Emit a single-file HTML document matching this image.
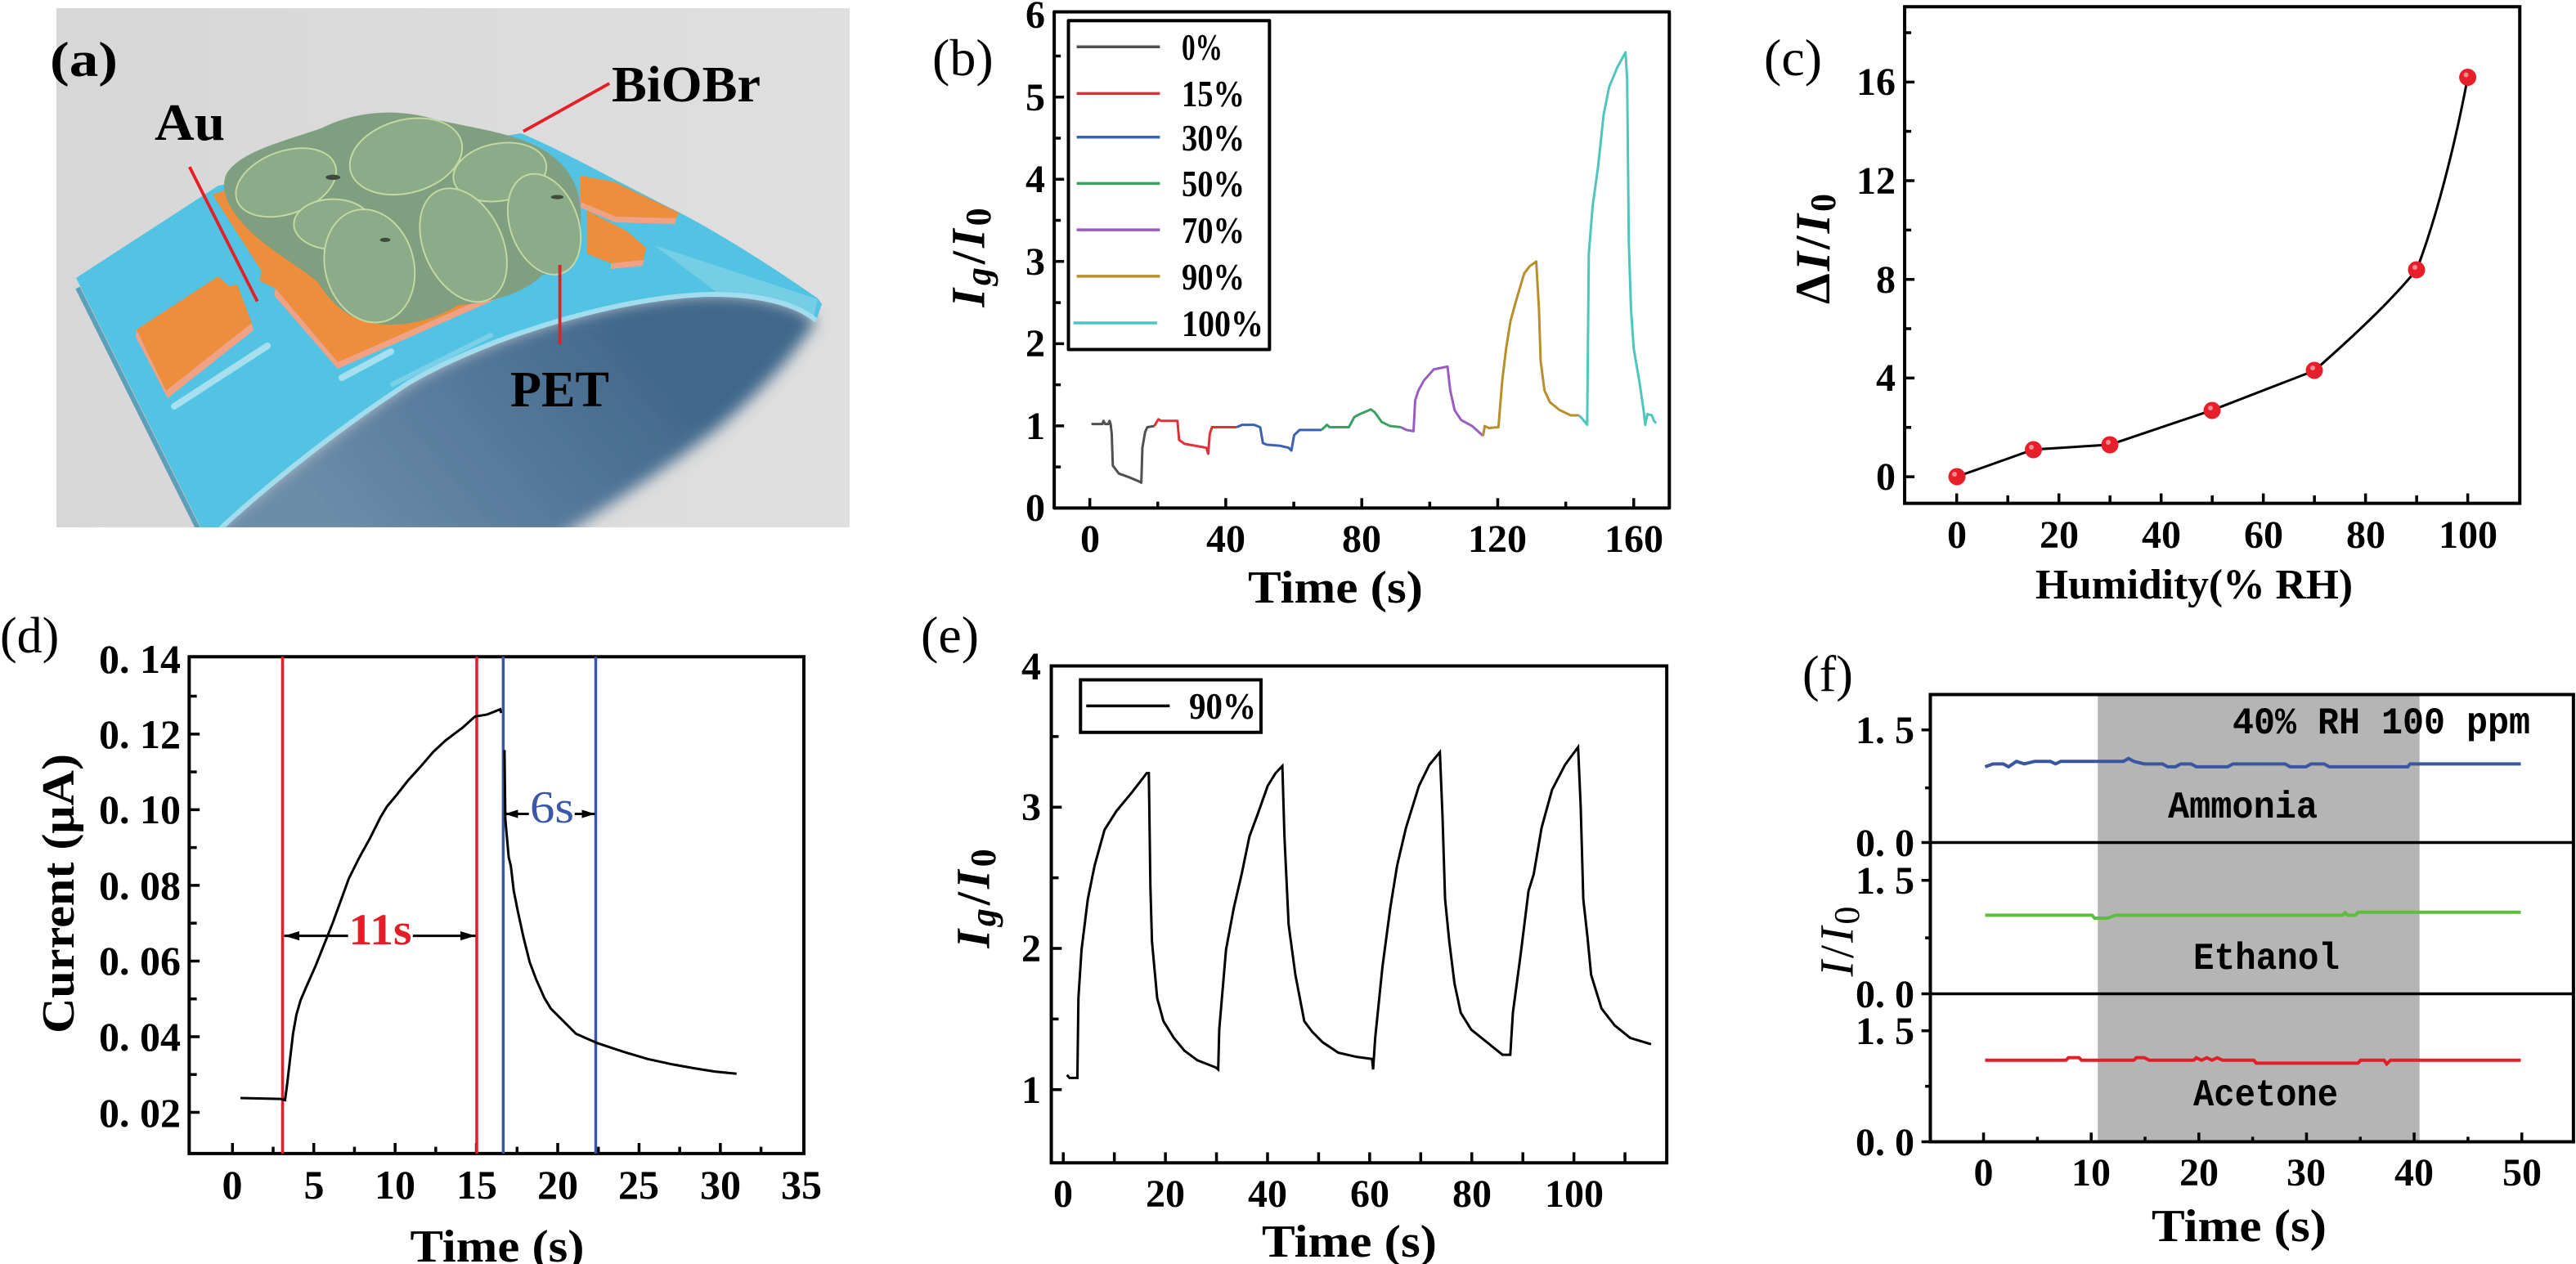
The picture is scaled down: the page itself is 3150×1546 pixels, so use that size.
<!DOCTYPE html>
<html><head><meta charset="utf-8">
<style>
html,body{margin:0;padding:0;background:#fff;}
svg{display:block;}
text{font-family:"Liberation Serif","Noto Serif CJK SC",serif;}
</style></head>
<body>
<svg width="3150" height="1546" viewBox="0 0 3150 1546" xmlns="http://www.w3.org/2000/svg">
<defs>
<linearGradient id="bg" x1="0" y1="0" x2="1" y2="0"><stop offset="0" stop-color="#d7d7d7"/><stop offset="1" stop-color="#dfdfdf"/></linearGradient>
<linearGradient id="under" gradientUnits="userSpaceOnUse" x1="760" y1="370" x2="420" y2="650"><stop offset="0" stop-color="#40678a"/><stop offset="0.5" stop-color="#56799a"/><stop offset="1" stop-color="#6c8ca8"/></linearGradient>
<clipPath id="clipA"><rect x="69" y="10" width="970" height="635"/></clipPath>
<filter id="blurA" x="-20%" y="-20%" width="140%" height="140%"><feGaussianBlur stdDeviation="9"/></filter>
</defs>

<!-- ================= Panel (a) ================= -->
<rect x="69" y="10" width="970" height="635" fill="url(#bg)"/>
<g clip-path="url(#clipA)">
<path d="M240,660 L268,643 C330,590 420,520 500,468 C600,410 760,362 870,360 C930,360 975,372 998,392 C965,445 905,505 850,545 C790,590 725,630 680,660 Z" fill="url(#under)" filter="url(#blurA)"/>
<path d="M93,340 L247,648 L268,648 C330,590 420,520 500,468 C600,410 760,362 870,360 C930,360 975,372 998,392 L1005,372 L1000,365 C950,330 880,285 827,258 C760,225 690,185 637,163 L267,227 Z" fill="#52c3e2"/>
<path d="M800,300 L1000,366 L995,388 C960,372 920,362 880,360 Z" fill="#86d3e8" opacity="0.7"/>
<path d="M268,648 C330,590 420,520 500,468 C600,410 760,362 870,360 C930,360 975,372 998,392" fill="none" stroke="#a2ddef" stroke-width="6"/>
<path d="M95,352 L243,648" fill="none" stroke="#5d9fbb" stroke-width="6"/>
<path d="M213,497 L327,423" stroke="#a6e0f0" stroke-width="8" stroke-linecap="round"/>
<path d="M418,462 L478,430" stroke="#a6e0f0" stroke-width="8" stroke-linecap="round"/>
<path d="M480,470 L600,410" stroke="#8cd6ec" stroke-width="6" stroke-linecap="round" opacity="0.7"/>
<!-- electrodes -->
<polygon points="167,403 267,338 280,350 290,348 308,395 203,478" fill="#ee8d3b"/>
<polygon points="203,478 308,395 310,404 205,487" fill="#f3a184"/>
<polygon points="167,403 203,478 205,487 166,412" fill="#f3a184"/>
<polygon points="260,238 450,170 640,300 627,349 413,443 337,353 317,343 320,332" fill="#ee8d3b"/>
<polygon points="413,443 627,349 627,357 413,451" fill="#f3a184"/>
<polygon points="337,353 413,443 413,451 335,361" fill="#f3a184"/>
<polygon points="710,215 750,222 830,260 827,267 753,265 710,247" fill="#ee8d3b"/>
<polygon points="710,247 753,265 827,267 825,274 753,272 710,254" fill="#f3a184"/>
<polygon points="717,257 767,283 790,303 787,318 747,322 717,310" fill="#ee8d3b"/>
<polygon points="747,322 787,318 786,325 747,329" fill="#f3a184"/>
</g>
<g transform="translate(50,0) scale(0.6378)">
<!-- BiOBr cluster -->
<path d="M355,335 C380,290 470,270 540,245 C600,215 680,205 760,230 C830,245 900,255 950,280 C1010,310 1040,360 1035,430 C1040,490 1010,520 960,528 C930,560 870,580 800,585 C760,610 700,630 640,620 C580,612 550,570 530,540 C480,500 420,470 380,420 C355,390 345,360 355,335 Z" fill="#7f9f80"/>
<g fill="#8bab89" stroke="#c4daa4" stroke-width="3">
<ellipse cx="470" cy="350" rx="100" ry="60" transform="rotate(-20 470 350)"/>
<ellipse cx="700" cy="300" rx="110" ry="70" transform="rotate(-15 700 300)"/>
<ellipse cx="880" cy="330" rx="90" ry="55" transform="rotate(-10 880 330)"/>
<ellipse cx="560" cy="430" rx="75" ry="48"/>
<ellipse cx="965" cy="430" rx="65" ry="100" transform="rotate(-20 965 430)"/>
<ellipse cx="810" cy="470" rx="75" ry="115" transform="rotate(-25 810 470)"/>
<ellipse cx="630" cy="510" rx="85" ry="110" transform="rotate(-15 630 510)"/>
</g>
<g fill="#3d4a3c"><ellipse cx="560" cy="340" rx="14" ry="5"/><ellipse cx="990" cy="378" rx="12" ry="4"/><ellipse cx="660" cy="460" rx="10" ry="4"/></g>
<g stroke="#e61e28" stroke-width="6" fill="none">
<line x1="1090" y1="160" x2="925" y2="252"/>
<line x1="285" y1="320" x2="415" y2="578"/>
<line x1="995" y1="508" x2="995" y2="660"/>
</g>
</g>
<text x="61" y="93" font-size="60" font-weight="bold" textLength="83" lengthAdjust="spacingAndGlyphs">(a)</text>
<text x="748" y="124" font-size="62" font-weight="bold" textLength="182" lengthAdjust="spacingAndGlyphs">BiOBr</text>
<text x="189" y="171" font-size="64" font-weight="bold" textLength="86" lengthAdjust="spacingAndGlyphs">Au</text>
<text x="624" y="497" font-size="62" font-weight="bold" textLength="121" lengthAdjust="spacingAndGlyphs">PET</text>

<!-- ================= Panel (b) ================= -->
<g transform="translate(1050,0) scale(0.6698,0.4847)" fill="none" stroke-linejoin="round">
<rect x="357" y="30" width="1123" height="1252" stroke="#000" stroke-width="4" vector-effect="non-scaling-stroke"/>
<path d="M357,1074.6h18M357,867.2h18M357,659.8h18M357,452.4h18M357,245h18M357,1178.3h12M357,970.9h12M357,763.5h12M357,556.1h12M357,348.7h12M357,141.3h12M422,1282v-25M670.2,1282v-25M918.5,1282v-25M1166.7,1282v-25M1415,1282v-25M546.1,1282v-16M794.4,1282v-16M1042.6,1282v-16M1290.9,1282v-16" stroke="#000" stroke-width="3.5" vector-effect="non-scaling-stroke"/>
<rect x="383" y="52" width="367" height="830" stroke="#000" stroke-width="4" vector-effect="non-scaling-stroke"/>
<g stroke-width="3.5">
<path d="M398,118H550" stroke="#505050" vector-effect="non-scaling-stroke"/>
<path d="M398,236H550" stroke="#e2303a" vector-effect="non-scaling-stroke"/>
<path d="M398,346H550" stroke="#3a62b0" vector-effect="non-scaling-stroke"/>
<path d="M398,463H550" stroke="#3aa060" vector-effect="non-scaling-stroke"/>
<path d="M398,580H550" stroke="#9a5cc0" vector-effect="non-scaling-stroke"/>
<path d="M398,697H550" stroke="#b88f2a" vector-effect="non-scaling-stroke"/>
<path d="M392,815H545" stroke="#4ec6be" vector-effect="non-scaling-stroke"/>
</g>
<g stroke-width="3">
<path d="M425,1070 L445,1070 L447,1062 L450,1070 L456,1070 L458,1062 L460,1070 L462,1095 L464,1175 L475,1195 L495,1205 L512,1215 L516,1218 L518,1130 L523,1090 L527,1078 L540,1075" stroke="#505050" vector-effect="non-scaling-stroke"/>
<path d="M540,1075 L547,1058 L552,1062 L582,1062 L585,1110 L595,1120 L615,1125 L635,1130 L638,1145 L641,1095 L645,1078 L690,1078" stroke="#e2303a" vector-effect="non-scaling-stroke"/>
<path d="M690,1078 L700,1072 L722,1072 L733,1078 L738,1118 L745,1122 L770,1125 L785,1130 L790,1137 L795,1098 L805,1085 L845,1085" stroke="#3a62b0" vector-effect="non-scaling-stroke"/>
<path d="M845,1085 L855,1072 L860,1078 L895,1078 L905,1052 L915,1045 L935,1033 L942,1040 L955,1065 L970,1075 L990,1078" stroke="#3aa060" vector-effect="non-scaling-stroke"/>
<path d="M990,1078 L1000,1085 L1013,1088 L1016,1010 L1022,985 L1032,960 L1050,932 L1075,925 L1080,985 L1088,1035 L1100,1060 L1120,1075 L1140,1100" stroke="#9a5cc0" vector-effect="non-scaling-stroke"/>
<path d="M1140,1100 L1143,1075 L1150,1080 L1168,1078 L1175,960 L1182,880 L1190,810 L1200,760 L1215,690 L1225,672 L1237,660 L1242,780 L1245,910 L1252,985 L1262,1015 L1280,1035 L1300,1048 L1315,1048" stroke="#b88f2a" vector-effect="non-scaling-stroke"/>
<path d="M1315,1048 L1322,1058 L1330,1072 L1333,640 L1340,520 L1350,420 L1360,290 L1370,220 L1385,170 L1400,132 L1403,200 L1406,610 L1410,780 L1415,880 L1425,960 L1433,1035 L1436,1072 L1440,1045 L1448,1048 L1452,1062 L1456,1068" stroke="#4ec6be" vector-effect="non-scaling-stroke"/>
</g>
</g>
<g font-size="48" font-weight="bold" text-anchor="end">
<text x="1278" y="637">0</text><text x="1278" y="537">1</text><text x="1278" y="436">2</text><text x="1278" y="336">3</text><text x="1278" y="235">4</text><text x="1278" y="135">5</text><text x="1278" y="34">6</text>
</g>
<g font-size="48" font-weight="bold" text-anchor="middle">
<text x="1333" y="675">0</text><text x="1499" y="675">40</text><text x="1665" y="675">80</text><text x="1831" y="675">120</text><text x="1998" y="675">160</text>
</g>
<text x="1633" y="737" font-size="56" font-weight="bold" text-anchor="middle" textLength="214" lengthAdjust="spacingAndGlyphs">Time (s)</text>
<text x="1140" y="92" font-size="64">(b)</text>
<g font-size="46" font-weight="bold">
<text x="1445" y="73" textLength="50" lengthAdjust="spacingAndGlyphs">0%</text>
<text x="1445" y="130" textLength="77" lengthAdjust="spacingAndGlyphs">15%</text>
<text x="1445" y="184" textLength="77" lengthAdjust="spacingAndGlyphs">30%</text>
<text x="1445" y="240" textLength="77" lengthAdjust="spacingAndGlyphs">50%</text>
<text x="1445" y="297" textLength="77" lengthAdjust="spacingAndGlyphs">70%</text>
<text x="1445" y="354" textLength="77" lengthAdjust="spacingAndGlyphs">90%</text>
<text x="1445" y="411" textLength="100" lengthAdjust="spacingAndGlyphs">100%</text>
</g>
<text transform="translate(1184,313) rotate(-90)" text-anchor="middle" dominant-baseline="central" font-size="58" font-weight="bold" font-style="italic" letter-spacing="4">I<tspan font-size="44" dy="12">g</tspan><tspan dy="-12" font-style="normal">/</tspan>I<tspan font-size="44" dy="12" font-style="normal">0</tspan></text>

<!-- ================= Panel (c) ================= -->
<g transform="translate(2100,0) scale(0.6698,0.4847)" fill="none">
<rect x="342" y="17" width="1123" height="1253" stroke="#000" stroke-width="4" vector-effect="non-scaling-stroke"/>
<path d="M342,1203h18M342,954h18M342,705h18M342,456h18M342,207h18M342,1078.5h12M342,829.5h12M342,580.5h12M342,331.5h12M342,82.5h12M437,1270v-25M623.6,1270v-25M810.2,1270v-25M996.8,1270v-25M1183.4,1270v-25M1370,1270v-25M530.3,1270v-20M716.9,1270v-20M903.5,1270v-20M1090.1,1270v-20M1276.7,1270v-20" stroke="#000" stroke-width="3.5" vector-effect="non-scaling-stroke"/>
<path d="M437,1203 L577,1134.5 L717,1122 L903.5,1035 L1090,935.3 C1160,850 1230,760 1277,680 C1310,560 1345,380 1370,194.6" stroke="#000" stroke-width="3" vector-effect="non-scaling-stroke"/>
</g>
<g fill="#e61f2a">
<circle cx="2393" cy="583" r="10.5"/><circle cx="2486.5" cy="550" r="10.5"/><circle cx="2580" cy="544" r="10.5"/><circle cx="2705" cy="502" r="10.5"/><circle cx="2830" cy="453" r="10.5"/><circle cx="2955" cy="330" r="10.5"/><circle cx="3017.6" cy="94.5" r="10.5"/>
</g>
<g fill="#f58a90"><circle cx="2390" cy="580" r="3"/><circle cx="2484" cy="547" r="3"/><circle cx="2578" cy="541" r="3"/><circle cx="2703" cy="499" r="3"/><circle cx="2828" cy="450" r="3"/><circle cx="2953" cy="327" r="3"/><circle cx="3015.5" cy="91.5" r="3"/></g>
<g font-size="48" font-weight="bold" text-anchor="end">
<text x="2318" y="599">0</text><text x="2318" y="478">4</text><text x="2318" y="358">8</text><text x="2318" y="237">12</text><text x="2318" y="116">16</text>
</g>
<g font-size="48" font-weight="bold" text-anchor="middle">
<text x="2393" y="670">0</text><text x="2518" y="670">20</text><text x="2643" y="670">40</text><text x="2768" y="670">60</text><text x="2893" y="670">80</text><text x="3018" y="670">100</text>
</g>
<text x="2683" y="732" font-size="52" font-weight="bold" text-anchor="middle" textLength="388" lengthAdjust="spacingAndGlyphs">Humidity(% RH)</text>
<text x="2157" y="92" font-size="64">(c)</text>
<text transform="translate(2217,303) rotate(-90)" text-anchor="middle" dominant-baseline="central" font-size="60" font-weight="bold" letter-spacing="3">Δ<tspan font-style="italic">I</tspan>/<tspan font-style="italic">I</tspan><tspan font-size="44" dy="12">0</tspan></text>

<!-- ================= Panel (d) ================= -->
<g transform="translate(0,740) scale(0.5141)" fill="none">
<rect x="450" y="123" width="1462" height="1182" stroke="#000" stroke-width="4" vector-effect="non-scaling-stroke"/>
<path d="M450,1207h25M450,1027h25M450,847h25M450,667h25M450,487h25M450,307h25M450,1117h18M450,937h18M450,757h18M450,577h18M450,397h18M450,217h18M553,1305v-25M746.4,1305v-25M939.8,1305v-25M1133.2,1305v-25M1326.6,1305v-25M1520,1305v-25M1713.4,1305v-25M649.7,1305v-16M843.1,1305v-16M1036.5,1305v-16M1229.9,1305v-16M1423.3,1305v-16M1616.7,1305v-16M1810.1,1305v-16" stroke="#000" stroke-width="3.5" vector-effect="non-scaling-stroke"/>
<path d="M672,123V1305M1134,123V1305" stroke="#e41e26" stroke-width="3.5" vector-effect="non-scaling-stroke"/>
<path d="M1197,123V1305M1417,123V1305" stroke="#3a58a6" stroke-width="3.5" vector-effect="non-scaling-stroke"/>
<path d="M572,1173 L668,1175 L678,1178 L683,1140 L690,1080 L697,1020 L705,975 L715,940 L730,905 L750,860 L770,810 L790,760 L810,705 L830,650 L855,600 L880,555 L905,505 L920,480 L945,450 L970,418 L1000,385 L1030,350 L1060,322 L1100,292 L1130,265 L1150,262 L1160,260 L1190,248 L1192,257 M1200,345 L1202,510 L1210,600 L1215,620 L1222,680 L1232,730 L1245,790 L1260,850 L1275,890 L1295,935 L1310,960 L1340,990 L1370,1020 L1420,1042 L1480,1062 L1540,1080 L1600,1093 L1650,1102 L1700,1110 L1752,1115" stroke="#000" stroke-width="3" vector-effect="non-scaling-stroke"/>
<path d="M676,787H828M982,787H1131M1200,497H1258M1367,497H1415" stroke="#000" stroke-width="3" vector-effect="non-scaling-stroke"/>
<g fill="#000"><polygon points="676,787 712,776 712,798"/><polygon points="1131,787 1095,776 1095,798"/><polygon points="1201,497 1232,487 1232,507"/><polygon points="1415,497 1384,487 1384,507"/></g>
</g>
<text x="465" y="1155" font-size="54" font-weight="bold" fill="#e41e26" text-anchor="middle" textLength="77" lengthAdjust="spacingAndGlyphs">11s</text>
<text x="675" y="1006" font-size="56" fill="#3a58a6" text-anchor="middle" textLength="54" lengthAdjust="spacingAndGlyphs">6s</text>
<g font-size="50" font-weight="bold" text-anchor="end">
<text x="221" y="823">0. 14</text><text x="221" y="915">0. 12</text><text x="221" y="1007">0. 10</text><text x="221" y="1100">0. 08</text><text x="221" y="1192">0. 06</text><text x="221" y="1285">0. 04</text><text x="221" y="1378">0. 02</text>
</g>
<g font-size="50" font-weight="bold" text-anchor="middle">
<text x="284" y="1466">0</text><text x="384" y="1466">5</text><text x="483" y="1466">10</text><text x="583" y="1466">15</text><text x="682" y="1466">20</text><text x="781" y="1466">25</text><text x="881" y="1466">30</text><text x="980" y="1466">35</text>
</g>
<text x="608" y="1543" font-size="56" font-weight="bold" text-anchor="middle" textLength="213" lengthAdjust="spacingAndGlyphs">Time (s)</text>
<text x="0" y="798" font-size="62">(d)</text>
<text transform="translate(72,1093) rotate(-90)" text-anchor="middle" dominant-baseline="central" font-size="56" font-weight="bold" textLength="342" lengthAdjust="spacingAndGlyphs">Current (μA)</text>

<!-- ================= Panel (e) ================= -->
<g transform="translate(1040,740) scale(0.6378,0.5141)" fill="none">
<rect x="385" y="145" width="1180" height="1182" stroke="#000" stroke-width="4" vector-effect="non-scaling-stroke"/>
<path d="M385,481h20M385,817h20M385,1153h20M385,313h14M385,649h14M385,985h14M408,1327v-25M603.8,1327v-25M799.6,1327v-25M995.4,1327v-25M1191.2,1327v-25M1387,1327v-25M505.9,1327v-25M701.7,1327v-25M897.5,1327v-25M1093.3,1327v-25M1289.1,1327v-25M1484.9,1327v-25" stroke="#000" stroke-width="3.5" vector-effect="non-scaling-stroke"/>
<rect x="441" y="178" width="346" height="125" stroke="#000" stroke-width="4" vector-effect="non-scaling-stroke"/>
<path d="M452,240H612" stroke="#000" stroke-width="3.5" vector-effect="non-scaling-stroke"/>
<path d="M415,1118 L420,1125 L435,1125 L437,935 L443,820 L455,700 L468,620 L487,535 L510,490 L540,445 L568,400 L572,400 L575,670 L578,800 L588,935 L600,990 L620,1030 L640,1060 L665,1083 L700,1100 L705,1105 L707,1010 L720,820 L735,720 L750,640 L765,550 L780,500 L800,430 L815,400 L828,383 L832,550 L840,760 L853,880 L870,990 L885,1015 L905,1040 L935,1065 L970,1075 L1000,1080 L1002,1105 L1006,1030 L1020,860 L1035,720 L1048,620 L1065,530 L1090,430 L1110,380 L1130,350 L1135,500 L1140,700 L1148,800 L1158,900 L1170,970 L1190,1010 L1225,1045 L1250,1070 L1265,1070 L1270,970 L1285,830 L1300,680 L1310,640 L1325,530 L1345,440 L1370,380 L1395,338 L1400,480 L1405,700 L1413,790 L1420,880 L1440,960 L1465,1000 L1495,1030 L1535,1045" stroke="#000" stroke-width="3" vector-effect="non-scaling-stroke"/>
</g>
<text x="1454" y="879" font-size="46" font-weight="bold" textLength="82" lengthAdjust="spacingAndGlyphs">90%</text>
<g font-size="48" font-weight="bold" text-anchor="end">
<text x="1273" y="831">4</text><text x="1273" y="1003">3</text><text x="1273" y="1176">2</text><text x="1273" y="1349">1</text>
</g>
<g font-size="48" font-weight="bold" text-anchor="middle">
<text x="1300" y="1476">0</text><text x="1425" y="1476">20</text><text x="1550" y="1476">40</text><text x="1675" y="1476">60</text><text x="1800" y="1476">80</text><text x="1925" y="1476">100</text>
</g>
<text x="1650" y="1537" font-size="56" font-weight="bold" text-anchor="middle" textLength="214" lengthAdjust="spacingAndGlyphs">Time (s)</text>
<text x="1126" y="798" font-size="64">(e)</text>
<text transform="translate(1190,1097) rotate(-90)" text-anchor="middle" dominant-baseline="central" font-size="58" font-weight="bold" font-style="italic" letter-spacing="4">I<tspan font-size="44" dy="12">g</tspan><tspan dy="-12" font-style="normal">/</tspan>I<tspan font-size="44" dy="12" font-style="normal">0</tspan></text>

<!-- ================= Panel (f) ================= -->
<g transform="translate(2150,740) scale(0.6378,0.5141)" fill="none">
<rect x="651" y="213" width="617" height="1064" fill="#b5b5b5" stroke="none"/>
<rect x="330" y="213" width="1233" height="1064" stroke="#000" stroke-width="4" vector-effect="non-scaling-stroke"/>
<path d="M313,565H1563M313,925H1563M313,1277H330" stroke="#000" stroke-width="3.5" vector-effect="non-scaling-stroke"/>
<path d="M313,297H330M313,655H330M313,1013H330M320,435H330M320,792H330M320,1145H330M432,1277v-22M638.4,1277v-22M844.8,1277v-22M1051.2,1277v-22M1257.6,1277v-22M1464,1277v-22M535.2,1277v-12M741.6,1277v-12M948,1277v-12M1154.4,1277v-12M1360.8,1277v-12" stroke="#000" stroke-width="3.5" vector-effect="non-scaling-stroke"/>
<path d="M435,385 L450,378 L470,378 L480,385 L495,372 L510,378 L530,372 L560,372 L570,378 L580,372 L700,372 L710,365 L720,372 L740,378 L775,378 L785,385 L800,385 L810,378 L830,378 L840,385 L900,385 L910,378 L1010,378 L1020,385 L1050,385 L1060,378 L1085,378 L1095,385 L1245,385 L1250,378 L1462,378" stroke="#3a55a2" stroke-width="4" vector-effect="non-scaling-stroke"/>
<path d="M435,738 L640,738 L645,745 L670,745 L685,738 L1120,738 L1125,732 L1130,738 L1145,738 L1150,731 L1462,731" stroke="#5cbe3a" stroke-width="4" vector-effect="non-scaling-stroke"/>
<path d="M435,1083 L590,1083 L595,1077 L615,1077 L620,1083 L720,1083 L725,1077 L740,1077 L750,1083 L835,1083 L840,1077 L850,1083 L860,1077 L870,1083 L880,1077 L890,1083 L950,1083 L955,1090 L1150,1090 L1155,1083 L1200,1083 L1205,1092 L1212,1083 L1462,1083" stroke="#e41e26" stroke-width="4" vector-effect="non-scaling-stroke"/>
</g>
<g font-size="48" font-weight="bold" text-anchor="end">
<text x="2341" y="909">1. 5</text><text x="2341" y="1093">1. 5</text><text x="2341" y="1277">1. 5</text>
<text x="2341" y="1047">0. 0</text><text x="2341" y="1232">0. 0</text><text x="2341" y="1413">0. 0</text>
</g>
<g font-size="48" font-weight="bold" text-anchor="middle">
<text x="2425.5" y="1450">0</text><text x="2557" y="1450">10</text><text x="2689" y="1450">20</text><text x="2820" y="1450">30</text><text x="2952" y="1450">40</text><text x="3084" y="1450">50</text>
</g>
<text x="2738" y="1518" font-size="56" font-weight="bold" text-anchor="middle" textLength="214" lengthAdjust="spacingAndGlyphs">Time (s)</text>
<text x="2204" y="845" font-size="62">(f)</text>
<text transform="translate(2246,1150) rotate(-90)" text-anchor="middle" dominant-baseline="central" font-size="58" font-style="italic" letter-spacing="3">I<tspan font-style="normal">/</tspan>I<tspan font-size="44" dy="12" font-style="normal">0</tspan></text>
<g font-weight="bold" font-size="46">
<text x="2730" y="897" textLength="364" lengthAdjust="spacingAndGlyphs" style="font-family:'Liberation Mono',monospace">40% RH 100 ppm</text>
<text x="2651" y="1000" textLength="183" lengthAdjust="spacingAndGlyphs" style="font-family:'Liberation Mono',monospace">Ammonia</text>
<text x="2682" y="1185" textLength="179" lengthAdjust="spacingAndGlyphs" style="font-family:'Liberation Mono',monospace">Ethanol</text>
<text x="2682" y="1352" textLength="177" lengthAdjust="spacingAndGlyphs" style="font-family:'Liberation Mono',monospace">Acetone</text>
</g>
</svg>
</body></html>
